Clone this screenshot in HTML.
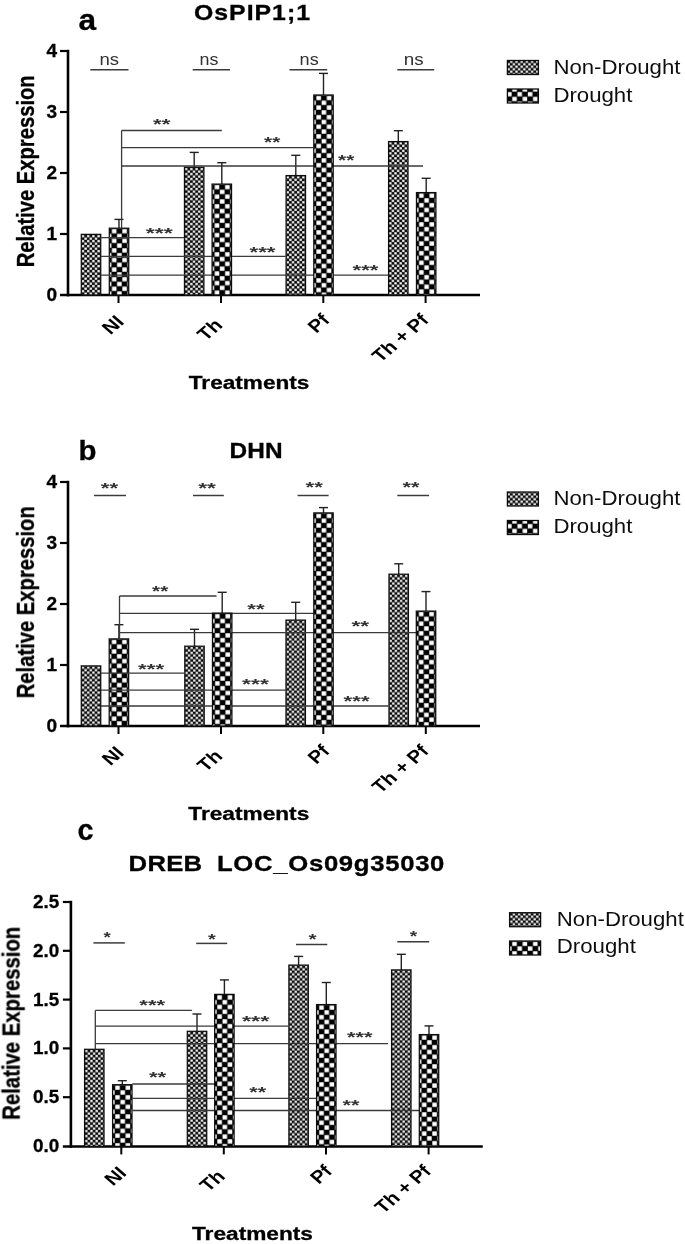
<!DOCTYPE html>
<html lang="en"><head><meta charset="utf-8"><title>Relative expression of drought responsive genes</title>
<style>html,body{margin:0;padding:0;background:#fff}body{width:685px;height:1244px;overflow:hidden}svg{display:block}svg text{font-family:"Liberation Sans", Arial, Helvetica, sans-serif}svg text[font-weight=bold]:not(.st){stroke:#000;stroke-width:.3px;paint-order:stroke}</style>
</head><body>
<svg width="685" height="1244" viewBox="0 0 685 1244">
<defs>
<pattern id="nd" patternUnits="userSpaceOnUse" width="5.2" height="5" x="0.4" y="0.5"><rect width="5.2" height="5" fill="#0a0a0a"/><rect x="0.15" y="0.12" width="2.3" height="2.25" fill="#fff"/><rect x="2.75" y="2.62" width="2.3" height="2.25" fill="#fff"/></pattern>
<pattern id="dr" patternUnits="userSpaceOnUse" width="10.4" height="9.6" x="2.3" y="0.6"><rect width="10.4" height="9.6" fill="#000"/><rect x="0.3" y="0.25" width="4.6" height="4.3" fill="#fff"/><rect x="5.5" y="5.05" width="4.6" height="4.3" fill="#fff"/></pattern>
<filter id="soft" x="0" y="0" width="685" height="1244" filterUnits="userSpaceOnUse"><feGaussianBlur stdDeviation="0.5"/></filter>
</defs>
<rect width="685" height="1244" fill="#fff"/>
<g filter="url(#soft)">
<line x1="68.0" y1="49.8" x2="68.0" y2="296.4" stroke="#000" stroke-width="2.6"/>
<line x1="60.0" y1="295.0" x2="480.0" y2="295.0" stroke="#000" stroke-width="2.5"/>
<line x1="60.0" y1="51.0" x2="68.0" y2="51.0" stroke="#000" stroke-width="2.2"/>
<text x="57.0" y="57.0" font-size="18.4" font-weight="bold" text-anchor="end" fill="#000" textLength="10.6" lengthAdjust="spacingAndGlyphs">4</text>
<line x1="60.0" y1="112.0" x2="68.0" y2="112.0" stroke="#000" stroke-width="2.2"/>
<text x="57.0" y="118.0" font-size="18.4" font-weight="bold" text-anchor="end" fill="#000" textLength="10.6" lengthAdjust="spacingAndGlyphs">3</text>
<line x1="60.0" y1="173.0" x2="68.0" y2="173.0" stroke="#000" stroke-width="2.2"/>
<text x="57.0" y="179.0" font-size="18.4" font-weight="bold" text-anchor="end" fill="#000" textLength="10.6" lengthAdjust="spacingAndGlyphs">2</text>
<line x1="60.0" y1="234.0" x2="68.0" y2="234.0" stroke="#000" stroke-width="2.2"/>
<text x="57.0" y="240.0" font-size="18.4" font-weight="bold" text-anchor="end" fill="#000" textLength="10.6" lengthAdjust="spacingAndGlyphs">1</text>
<text x="57.0" y="301.0" font-size="18.4" font-weight="bold" text-anchor="end" fill="#000" textLength="10.6" lengthAdjust="spacingAndGlyphs">0</text>
<line x1="118.5" y1="295.0" x2="118.5" y2="303.0" stroke="#000" stroke-width="2.0"/>
<line x1="221.0" y1="295.0" x2="221.0" y2="303.0" stroke="#000" stroke-width="2.0"/>
<line x1="323.3" y1="295.0" x2="323.3" y2="303.0" stroke="#000" stroke-width="2.0"/>
<line x1="425.6" y1="295.0" x2="425.6" y2="303.0" stroke="#000" stroke-width="2.0"/>
<svg x="81.3" y="234.4" width="19.4" height="60.6" overflow="hidden"><rect x="0" y="0" width="19.4" height="60.6" fill="url(#nd)"/></svg>
<rect x="81.3" y="234.4" width="19.4" height="60.6" fill="none" stroke="#111" stroke-width="1.3"/>
<line x1="194.2" y1="152.4" x2="194.2" y2="167.3" stroke="#222" stroke-width="1.4"/>
<line x1="189.7" y1="152.4" x2="198.7" y2="152.4" stroke="#222" stroke-width="1.4"/>
<svg x="184.5" y="167.3" width="19.4" height="127.7" overflow="hidden"><rect x="0" y="0" width="19.4" height="127.7" fill="url(#nd)"/></svg>
<rect x="184.5" y="167.3" width="19.4" height="127.7" fill="none" stroke="#111" stroke-width="1.3"/>
<line x1="295.8" y1="155.3" x2="295.8" y2="175.6" stroke="#222" stroke-width="1.4"/>
<line x1="291.3" y1="155.3" x2="300.3" y2="155.3" stroke="#222" stroke-width="1.4"/>
<svg x="286.1" y="175.6" width="19.4" height="119.4" overflow="hidden"><rect x="0" y="0" width="19.4" height="119.4" fill="url(#nd)"/></svg>
<rect x="286.1" y="175.6" width="19.4" height="119.4" fill="none" stroke="#111" stroke-width="1.3"/>
<line x1="398.3" y1="130.7" x2="398.3" y2="141.6" stroke="#222" stroke-width="1.4"/>
<line x1="393.8" y1="130.7" x2="402.8" y2="130.7" stroke="#222" stroke-width="1.4"/>
<svg x="388.6" y="141.6" width="19.4" height="153.4" overflow="hidden"><rect x="0" y="0" width="19.4" height="153.4" fill="url(#nd)"/></svg>
<rect x="388.6" y="141.6" width="19.4" height="153.4" fill="none" stroke="#111" stroke-width="1.3"/>
<line x1="119.0" y1="219.4" x2="119.0" y2="228.2" stroke="#222" stroke-width="1.4"/>
<line x1="114.5" y1="219.4" x2="123.5" y2="219.4" stroke="#222" stroke-width="1.4"/>
<svg x="109.3" y="228.2" width="19.4" height="66.8" overflow="hidden"><rect x="0" y="0" width="19.4" height="66.8" fill="url(#dr)"/></svg>
<rect x="109.3" y="228.2" width="19.4" height="66.8" fill="none" stroke="#111" stroke-width="1.3"/>
<line x1="121.6" y1="130.5" x2="121.6" y2="228.0" stroke="#3a3a3a" stroke-width="1.3"/>
<line x1="121.6" y1="130.5" x2="221.8" y2="130.5" stroke="#3a3a3a" stroke-width="1.3"/>
<line x1="121.6" y1="147.6" x2="313.3" y2="147.6" stroke="#3a3a3a" stroke-width="1.3"/>
<line x1="121.6" y1="166.0" x2="423.0" y2="166.0" stroke="#3a3a3a" stroke-width="1.3"/>
<line x1="101.0" y1="237.7" x2="184.3" y2="237.7" stroke="#3a3a3a" stroke-width="1.3"/>
<line x1="101.0" y1="256.4" x2="285.7" y2="256.4" stroke="#3a3a3a" stroke-width="1.3"/>
<line x1="101.0" y1="275.1" x2="388.5" y2="275.1" stroke="#3a3a3a" stroke-width="1.3"/>
<line x1="221.8" y1="162.7" x2="221.8" y2="184.1" stroke="#222" stroke-width="1.4"/>
<line x1="217.3" y1="162.7" x2="226.3" y2="162.7" stroke="#222" stroke-width="1.4"/>
<svg x="212.1" y="184.1" width="19.4" height="110.9" overflow="hidden"><rect x="0" y="0" width="19.4" height="110.9" fill="url(#dr)"/></svg>
<rect x="212.1" y="184.1" width="19.4" height="110.9" fill="none" stroke="#111" stroke-width="1.3"/>
<line x1="323.5" y1="73.4" x2="323.5" y2="95.0" stroke="#222" stroke-width="1.4"/>
<line x1="319.0" y1="73.4" x2="328.0" y2="73.4" stroke="#222" stroke-width="1.4"/>
<svg x="313.8" y="95.0" width="19.4" height="200.0" overflow="hidden"><rect x="0" y="0" width="19.4" height="200.0" fill="url(#dr)"/></svg>
<rect x="313.8" y="95.0" width="19.4" height="200.0" fill="none" stroke="#111" stroke-width="1.3"/>
<line x1="426.2" y1="178.3" x2="426.2" y2="192.6" stroke="#222" stroke-width="1.4"/>
<line x1="421.7" y1="178.3" x2="430.7" y2="178.3" stroke="#222" stroke-width="1.4"/>
<svg x="416.5" y="192.6" width="19.4" height="102.4" overflow="hidden"><rect x="0" y="0" width="19.4" height="102.4" fill="url(#dr)"/></svg>
<rect x="416.5" y="192.6" width="19.4" height="102.4" fill="none" stroke="#111" stroke-width="1.3"/>
<line x1="90.3" y1="69.8" x2="128.5" y2="69.8" stroke="#3a3a3a" stroke-width="1.5"/>
<text x="99.5" y="64.6" font-size="16.5" font-weight="normal" text-anchor="start" fill="#333" textLength="19.6" lengthAdjust="spacingAndGlyphs">ns</text>
<line x1="192.7" y1="69.8" x2="230.0" y2="69.8" stroke="#3a3a3a" stroke-width="1.5"/>
<text x="199.6" y="64.6" font-size="16.5" font-weight="normal" text-anchor="start" fill="#333" textLength="18.9" lengthAdjust="spacingAndGlyphs">ns</text>
<line x1="289.5" y1="69.8" x2="327.2" y2="69.8" stroke="#3a3a3a" stroke-width="1.5"/>
<text x="299.6" y="64.6" font-size="16.5" font-weight="normal" text-anchor="start" fill="#333" textLength="19.1" lengthAdjust="spacingAndGlyphs">ns</text>
<line x1="397.3" y1="69.8" x2="434.2" y2="69.8" stroke="#3a3a3a" stroke-width="1.5"/>
<text x="403.7" y="64.6" font-size="16.5" font-weight="normal" text-anchor="start" fill="#333" textLength="19.9" lengthAdjust="spacingAndGlyphs">ns</text>
<text x="153.1" y="128.7" font-size="14.5" font-weight="bold" text-anchor="start" fill="#333" textLength="17.3" lengthAdjust="spacingAndGlyphs" class="st">**</text>
<text x="264.1" y="146.5" font-size="14.5" font-weight="bold" text-anchor="start" fill="#333" textLength="16.2" lengthAdjust="spacingAndGlyphs" class="st">**</text>
<text x="338.1" y="165.3" font-size="14.5" font-weight="bold" text-anchor="start" fill="#333" textLength="16.3" lengthAdjust="spacingAndGlyphs" class="st">**</text>
<text x="145.8" y="238.4" font-size="14.5" font-weight="bold" text-anchor="start" fill="#333" textLength="27.1" lengthAdjust="spacingAndGlyphs" class="st">***</text>
<text x="249.5" y="256.5" font-size="14.5" font-weight="bold" text-anchor="start" fill="#333" textLength="26.0" lengthAdjust="spacingAndGlyphs" class="st">***</text>
<text x="352.5" y="275.0" font-size="14.5" font-weight="bold" text-anchor="start" fill="#333" textLength="26.0" lengthAdjust="spacingAndGlyphs" class="st">***</text>
<text transform="translate(194.0,19.9) scale(1.16,1)" font-size="21.4" font-weight="bold" textLength="100.0" lengthAdjust="spacing">OsPIP1;1</text>
<text x="78.6" y="30.4" font-size="30" font-weight="bold" text-anchor="start" fill="#000" textLength="17.6" lengthAdjust="spacingAndGlyphs">a</text>
<text transform="translate(34.2,171.3) rotate(-90) scale(1,1.16)" font-size="20" font-weight="bold" text-anchor="middle" textLength="192.0" lengthAdjust="spacingAndGlyphs">Relative Expression</text>
<text x="188.8" y="388.6" font-size="18.8" font-weight="bold" text-anchor="start" fill="#000" textLength="120.6" lengthAdjust="spacingAndGlyphs">Treatments</text>
<text transform="translate(125.1,322.7) scale(1.18,1) rotate(-45)" font-size="17.6" font-weight="bold" class="st" text-anchor="end">NI</text>
<text transform="translate(223.6,326.2) scale(1.18,1) rotate(-45)" font-size="17.6" font-weight="bold" class="st" text-anchor="end">Th</text>
<text transform="translate(330.9,321.2) scale(1.18,1) rotate(-45)" font-size="17.6" font-weight="bold" class="st" text-anchor="end">Pf</text>
<text transform="translate(429.9,321.2) scale(1.18,1) rotate(-45)" font-size="17.6" font-weight="bold" class="st" text-anchor="end">Th + Pf</text>
<rect x="507.4" y="60.5" width="31" height="14" fill="url(#nd)" stroke="#111" stroke-width="1.3"/>
<rect x="507.4" y="89.0" width="31" height="14" fill="url(#dr)" stroke="#111" stroke-width="1.3"/>
<text x="553.4" y="73.7" font-size="19.5" font-weight="normal" text-anchor="start" fill="#111" textLength="127.0" lengthAdjust="spacingAndGlyphs">Non-Drought</text>
<text x="553.4" y="101.7" font-size="19.5" font-weight="normal" text-anchor="start" fill="#111" textLength="79.0" lengthAdjust="spacingAndGlyphs">Drought</text>
<line x1="68.0" y1="480.8" x2="68.0" y2="727.4" stroke="#000" stroke-width="2.6"/>
<line x1="60.0" y1="726.0" x2="480.0" y2="726.0" stroke="#000" stroke-width="2.5"/>
<line x1="60.0" y1="482.0" x2="68.0" y2="482.0" stroke="#000" stroke-width="2.2"/>
<text x="57.0" y="488.0" font-size="18.4" font-weight="bold" text-anchor="end" fill="#000" textLength="10.6" lengthAdjust="spacingAndGlyphs">4</text>
<line x1="60.0" y1="543.0" x2="68.0" y2="543.0" stroke="#000" stroke-width="2.2"/>
<text x="57.0" y="549.0" font-size="18.4" font-weight="bold" text-anchor="end" fill="#000" textLength="10.6" lengthAdjust="spacingAndGlyphs">3</text>
<line x1="60.0" y1="604.0" x2="68.0" y2="604.0" stroke="#000" stroke-width="2.2"/>
<text x="57.0" y="610.0" font-size="18.4" font-weight="bold" text-anchor="end" fill="#000" textLength="10.6" lengthAdjust="spacingAndGlyphs">2</text>
<line x1="60.0" y1="665.0" x2="68.0" y2="665.0" stroke="#000" stroke-width="2.2"/>
<text x="57.0" y="671.0" font-size="18.4" font-weight="bold" text-anchor="end" fill="#000" textLength="10.6" lengthAdjust="spacingAndGlyphs">1</text>
<text x="57.0" y="732.0" font-size="18.4" font-weight="bold" text-anchor="end" fill="#000" textLength="10.6" lengthAdjust="spacingAndGlyphs">0</text>
<line x1="118.5" y1="726.0" x2="118.5" y2="734.0" stroke="#000" stroke-width="2.0"/>
<line x1="221.0" y1="726.0" x2="221.0" y2="734.0" stroke="#000" stroke-width="2.0"/>
<line x1="323.3" y1="726.0" x2="323.3" y2="734.0" stroke="#000" stroke-width="2.0"/>
<line x1="425.8" y1="726.0" x2="425.8" y2="734.0" stroke="#000" stroke-width="2.0"/>
<svg x="81.3" y="665.9" width="19.4" height="60.1" overflow="hidden"><rect x="0" y="0" width="19.4" height="60.1" fill="url(#nd)"/></svg>
<rect x="81.3" y="665.9" width="19.4" height="60.1" fill="none" stroke="#111" stroke-width="1.3"/>
<line x1="194.5" y1="629.3" x2="194.5" y2="646.2" stroke="#222" stroke-width="1.4"/>
<line x1="190.0" y1="629.3" x2="199.0" y2="629.3" stroke="#222" stroke-width="1.4"/>
<svg x="184.8" y="646.2" width="19.4" height="79.8" overflow="hidden"><rect x="0" y="0" width="19.4" height="79.8" fill="url(#nd)"/></svg>
<rect x="184.8" y="646.2" width="19.4" height="79.8" fill="none" stroke="#111" stroke-width="1.3"/>
<line x1="295.7" y1="602.3" x2="295.7" y2="620.1" stroke="#222" stroke-width="1.4"/>
<line x1="291.2" y1="602.3" x2="300.2" y2="602.3" stroke="#222" stroke-width="1.4"/>
<svg x="286.0" y="620.1" width="19.4" height="105.9" overflow="hidden"><rect x="0" y="0" width="19.4" height="105.9" fill="url(#nd)"/></svg>
<rect x="286.0" y="620.1" width="19.4" height="105.9" fill="none" stroke="#111" stroke-width="1.3"/>
<line x1="398.7" y1="563.8" x2="398.7" y2="574.2" stroke="#222" stroke-width="1.4"/>
<line x1="394.2" y1="563.8" x2="403.2" y2="563.8" stroke="#222" stroke-width="1.4"/>
<svg x="389.0" y="574.2" width="19.4" height="151.8" overflow="hidden"><rect x="0" y="0" width="19.4" height="151.8" fill="url(#nd)"/></svg>
<rect x="389.0" y="574.2" width="19.4" height="151.8" fill="none" stroke="#111" stroke-width="1.3"/>
<line x1="118.9" y1="624.7" x2="118.9" y2="638.9" stroke="#222" stroke-width="1.4"/>
<line x1="114.4" y1="624.7" x2="123.4" y2="624.7" stroke="#222" stroke-width="1.4"/>
<svg x="109.2" y="638.9" width="19.4" height="87.1" overflow="hidden"><rect x="0" y="0" width="19.4" height="87.1" fill="url(#dr)"/></svg>
<rect x="109.2" y="638.9" width="19.4" height="87.1" fill="none" stroke="#111" stroke-width="1.3"/>
<line x1="119.5" y1="596.0" x2="119.5" y2="639.0" stroke="#3a3a3a" stroke-width="1.3"/>
<line x1="119.5" y1="596.0" x2="216.5" y2="596.0" stroke="#3a3a3a" stroke-width="1.3"/>
<line x1="119.5" y1="613.4" x2="315.4" y2="613.4" stroke="#3a3a3a" stroke-width="1.3"/>
<line x1="119.5" y1="632.7" x2="418.6" y2="632.7" stroke="#3a3a3a" stroke-width="1.3"/>
<line x1="101.0" y1="673.2" x2="184.5" y2="673.2" stroke="#3a3a3a" stroke-width="1.3"/>
<line x1="101.0" y1="690.2" x2="285.7" y2="690.2" stroke="#3a3a3a" stroke-width="1.3"/>
<line x1="101.0" y1="706.0" x2="388.7" y2="706.0" stroke="#3a3a3a" stroke-width="1.3"/>
<line x1="222.2" y1="592.3" x2="222.2" y2="613.2" stroke="#222" stroke-width="1.4"/>
<line x1="217.7" y1="592.3" x2="226.7" y2="592.3" stroke="#222" stroke-width="1.4"/>
<svg x="212.5" y="613.2" width="19.4" height="112.8" overflow="hidden"><rect x="0" y="0" width="19.4" height="112.8" fill="url(#dr)"/></svg>
<rect x="212.5" y="613.2" width="19.4" height="112.8" fill="none" stroke="#111" stroke-width="1.3"/>
<line x1="323.5" y1="507.6" x2="323.5" y2="512.9" stroke="#222" stroke-width="1.4"/>
<line x1="319.0" y1="507.6" x2="328.0" y2="507.6" stroke="#222" stroke-width="1.4"/>
<svg x="313.8" y="512.9" width="19.4" height="213.1" overflow="hidden"><rect x="0" y="0" width="19.4" height="213.1" fill="url(#dr)"/></svg>
<rect x="313.8" y="512.9" width="19.4" height="213.1" fill="none" stroke="#111" stroke-width="1.3"/>
<line x1="426.0" y1="591.6" x2="426.0" y2="611.1" stroke="#222" stroke-width="1.4"/>
<line x1="421.5" y1="591.6" x2="430.5" y2="591.6" stroke="#222" stroke-width="1.4"/>
<svg x="416.3" y="611.1" width="19.4" height="114.9" overflow="hidden"><rect x="0" y="0" width="19.4" height="114.9" fill="url(#dr)"/></svg>
<rect x="416.3" y="611.1" width="19.4" height="114.9" fill="none" stroke="#111" stroke-width="1.3"/>
<line x1="94.0" y1="495.5" x2="126.0" y2="495.5" stroke="#3a3a3a" stroke-width="1.5"/>
<text x="100.7" y="492.9" font-size="14.5" font-weight="bold" text-anchor="start" fill="#333" textLength="17.5" lengthAdjust="spacingAndGlyphs" class="st">**</text>
<line x1="193.0" y1="495.5" x2="223.8" y2="495.5" stroke="#3a3a3a" stroke-width="1.5"/>
<text x="198.2" y="492.8" font-size="14.5" font-weight="bold" text-anchor="start" fill="#333" textLength="17.7" lengthAdjust="spacingAndGlyphs" class="st">**</text>
<line x1="297.6" y1="495.5" x2="328.6" y2="495.5" stroke="#3a3a3a" stroke-width="1.5"/>
<text x="305.5" y="491.7" font-size="14.5" font-weight="bold" text-anchor="start" fill="#333" textLength="17.3" lengthAdjust="spacingAndGlyphs" class="st">**</text>
<line x1="397.3" y1="495.5" x2="429.0" y2="495.5" stroke="#3a3a3a" stroke-width="1.5"/>
<text x="402.5" y="491.7" font-size="14.5" font-weight="bold" text-anchor="start" fill="#333" textLength="17.0" lengthAdjust="spacingAndGlyphs" class="st">**</text>
<text x="152.1" y="595.7" font-size="14.5" font-weight="bold" text-anchor="start" fill="#333" textLength="16.2" lengthAdjust="spacingAndGlyphs" class="st">**</text>
<text x="247.3" y="614.1" font-size="14.5" font-weight="bold" text-anchor="start" fill="#333" textLength="17.3" lengthAdjust="spacingAndGlyphs" class="st">**</text>
<text x="351.5" y="631.2" font-size="14.5" font-weight="bold" text-anchor="start" fill="#333" textLength="17.7" lengthAdjust="spacingAndGlyphs" class="st">**</text>
<text x="138.1" y="673.7" font-size="14.5" font-weight="bold" text-anchor="start" fill="#333" textLength="26.1" lengthAdjust="spacingAndGlyphs" class="st">***</text>
<text x="242.1" y="688.7" font-size="14.5" font-weight="bold" text-anchor="start" fill="#333" textLength="26.7" lengthAdjust="spacingAndGlyphs" class="st">***</text>
<text x="343.5" y="705.9" font-size="14.5" font-weight="bold" text-anchor="start" fill="#333" textLength="26.1" lengthAdjust="spacingAndGlyphs" class="st">***</text>
<text transform="translate(229.6,458.2) scale(1.12,1)" font-size="21.8" font-weight="bold" textLength="47.3" lengthAdjust="spacing">DHN</text>
<text x="78.6" y="459.8" font-size="28.5" font-weight="bold" text-anchor="start" fill="#000" textLength="18.0" lengthAdjust="spacingAndGlyphs">b</text>
<text transform="translate(34.2,602.3) rotate(-90) scale(1,1.16)" font-size="20" font-weight="bold" text-anchor="middle" textLength="192.0" lengthAdjust="spacingAndGlyphs">Relative Expression</text>
<text x="188.3" y="819.6" font-size="18.8" font-weight="bold" text-anchor="start" fill="#000" textLength="121.0" lengthAdjust="spacingAndGlyphs">Treatments</text>
<text transform="translate(125.1,753.7) scale(1.18,1) rotate(-45)" font-size="17.6" font-weight="bold" class="st" text-anchor="end">NI</text>
<text transform="translate(223.6,757.2) scale(1.18,1) rotate(-45)" font-size="17.6" font-weight="bold" class="st" text-anchor="end">Th</text>
<text transform="translate(330.9,752.2) scale(1.18,1) rotate(-45)" font-size="17.6" font-weight="bold" class="st" text-anchor="end">Pf</text>
<text transform="translate(429.9,752.2) scale(1.18,1) rotate(-45)" font-size="17.6" font-weight="bold" class="st" text-anchor="end">Th + Pf</text>
<rect x="507.4" y="492.0" width="31" height="14" fill="url(#nd)" stroke="#111" stroke-width="1.3"/>
<rect x="507.4" y="520.5" width="31" height="14" fill="url(#dr)" stroke="#111" stroke-width="1.3"/>
<text x="553.4" y="505.2" font-size="19.5" font-weight="normal" text-anchor="start" fill="#111" textLength="127.0" lengthAdjust="spacingAndGlyphs">Non-Drought</text>
<text x="553.4" y="533.2" font-size="19.5" font-weight="normal" text-anchor="start" fill="#111" textLength="79.0" lengthAdjust="spacingAndGlyphs">Drought</text>
<line x1="70.9" y1="900.8" x2="70.9" y2="1147.8" stroke="#000" stroke-width="2.6"/>
<line x1="62.9" y1="1146.4" x2="482.8" y2="1146.4" stroke="#000" stroke-width="2.5"/>
<line x1="62.9" y1="902.0" x2="70.9" y2="902.0" stroke="#000" stroke-width="2.2"/>
<text x="59.2" y="908.0" font-size="18.4" font-weight="bold" text-anchor="end" fill="#000" textLength="26.2" lengthAdjust="spacingAndGlyphs">2.5</text>
<line x1="62.9" y1="950.8" x2="70.9" y2="950.8" stroke="#000" stroke-width="2.2"/>
<text x="59.2" y="956.8" font-size="18.4" font-weight="bold" text-anchor="end" fill="#000" textLength="26.2" lengthAdjust="spacingAndGlyphs">2.0</text>
<line x1="62.9" y1="999.6" x2="70.9" y2="999.6" stroke="#000" stroke-width="2.2"/>
<text x="59.2" y="1005.6" font-size="18.4" font-weight="bold" text-anchor="end" fill="#000" textLength="26.2" lengthAdjust="spacingAndGlyphs">1.5</text>
<line x1="62.9" y1="1048.4" x2="70.9" y2="1048.4" stroke="#000" stroke-width="2.2"/>
<text x="59.2" y="1054.4" font-size="18.4" font-weight="bold" text-anchor="end" fill="#000" textLength="26.2" lengthAdjust="spacingAndGlyphs">1.0</text>
<line x1="62.9" y1="1097.2" x2="70.9" y2="1097.2" stroke="#000" stroke-width="2.2"/>
<text x="59.2" y="1103.2" font-size="18.4" font-weight="bold" text-anchor="end" fill="#000" textLength="26.2" lengthAdjust="spacingAndGlyphs">0.5</text>
<text x="59.2" y="1152.0" font-size="18.4" font-weight="bold" text-anchor="end" fill="#000" textLength="26.2" lengthAdjust="spacingAndGlyphs">0.0</text>
<line x1="121.3" y1="1146.4" x2="121.3" y2="1154.4" stroke="#000" stroke-width="2.0"/>
<line x1="223.8" y1="1146.4" x2="223.8" y2="1154.4" stroke="#000" stroke-width="2.0"/>
<line x1="326.0" y1="1146.4" x2="326.0" y2="1154.4" stroke="#000" stroke-width="2.0"/>
<line x1="428.6" y1="1146.4" x2="428.6" y2="1154.4" stroke="#000" stroke-width="2.0"/>
<svg x="84.6" y="1049.3" width="19.4" height="97.1" overflow="hidden"><rect x="0" y="0" width="19.4" height="97.1" fill="url(#nd)"/></svg>
<rect x="84.6" y="1049.3" width="19.4" height="97.1" fill="none" stroke="#111" stroke-width="1.3"/>
<line x1="197.0" y1="1014.0" x2="197.0" y2="1031.3" stroke="#222" stroke-width="1.4"/>
<line x1="192.5" y1="1014.0" x2="201.5" y2="1014.0" stroke="#222" stroke-width="1.4"/>
<svg x="187.3" y="1031.3" width="19.4" height="115.1" overflow="hidden"><rect x="0" y="0" width="19.4" height="115.1" fill="url(#nd)"/></svg>
<rect x="187.3" y="1031.3" width="19.4" height="115.1" fill="none" stroke="#111" stroke-width="1.3"/>
<line x1="298.6" y1="956.4" x2="298.6" y2="965.1" stroke="#222" stroke-width="1.4"/>
<line x1="294.1" y1="956.4" x2="303.1" y2="956.4" stroke="#222" stroke-width="1.4"/>
<svg x="288.9" y="965.1" width="19.4" height="181.3" overflow="hidden"><rect x="0" y="0" width="19.4" height="181.3" fill="url(#nd)"/></svg>
<rect x="288.9" y="965.1" width="19.4" height="181.3" fill="none" stroke="#111" stroke-width="1.3"/>
<line x1="401.3" y1="954.3" x2="401.3" y2="969.9" stroke="#222" stroke-width="1.4"/>
<line x1="396.8" y1="954.3" x2="405.8" y2="954.3" stroke="#222" stroke-width="1.4"/>
<svg x="391.6" y="969.9" width="19.4" height="176.5" overflow="hidden"><rect x="0" y="0" width="19.4" height="176.5" fill="url(#nd)"/></svg>
<rect x="391.6" y="969.9" width="19.4" height="176.5" fill="none" stroke="#111" stroke-width="1.3"/>
<line x1="122.3" y1="1080.7" x2="122.3" y2="1084.7" stroke="#222" stroke-width="1.4"/>
<line x1="117.8" y1="1080.7" x2="126.8" y2="1080.7" stroke="#222" stroke-width="1.4"/>
<svg x="112.6" y="1084.7" width="19.4" height="61.7" overflow="hidden"><rect x="0" y="0" width="19.4" height="61.7" fill="url(#dr)"/></svg>
<rect x="112.6" y="1084.7" width="19.4" height="61.7" fill="none" stroke="#111" stroke-width="1.3"/>
<line x1="95.3" y1="1010.4" x2="95.3" y2="1049.0" stroke="#3a3a3a" stroke-width="1.3"/>
<line x1="95.3" y1="1010.4" x2="191.9" y2="1010.4" stroke="#3a3a3a" stroke-width="1.3"/>
<line x1="95.3" y1="1026.2" x2="288.2" y2="1026.2" stroke="#3a3a3a" stroke-width="1.3"/>
<line x1="95.3" y1="1043.6" x2="388.0" y2="1043.6" stroke="#3a3a3a" stroke-width="1.3"/>
<line x1="132.3" y1="1084.0" x2="214.7" y2="1084.0" stroke="#3a3a3a" stroke-width="1.3"/>
<line x1="132.3" y1="1098.4" x2="316.0" y2="1098.4" stroke="#3a3a3a" stroke-width="1.3"/>
<line x1="132.3" y1="1110.5" x2="419.5" y2="1110.5" stroke="#3a3a3a" stroke-width="1.3"/>
<line x1="224.4" y1="979.9" x2="224.4" y2="994.4" stroke="#222" stroke-width="1.4"/>
<line x1="219.9" y1="979.9" x2="228.9" y2="979.9" stroke="#222" stroke-width="1.4"/>
<svg x="214.7" y="994.4" width="19.4" height="152.0" overflow="hidden"><rect x="0" y="0" width="19.4" height="152.0" fill="url(#dr)"/></svg>
<rect x="214.7" y="994.4" width="19.4" height="152.0" fill="none" stroke="#111" stroke-width="1.3"/>
<line x1="326.3" y1="982.5" x2="326.3" y2="1004.6" stroke="#222" stroke-width="1.4"/>
<line x1="321.8" y1="982.5" x2="330.8" y2="982.5" stroke="#222" stroke-width="1.4"/>
<svg x="316.6" y="1004.6" width="19.4" height="141.8" overflow="hidden"><rect x="0" y="0" width="19.4" height="141.8" fill="url(#dr)"/></svg>
<rect x="316.6" y="1004.6" width="19.4" height="141.8" fill="none" stroke="#111" stroke-width="1.3"/>
<line x1="429.0" y1="1025.9" x2="429.0" y2="1034.6" stroke="#222" stroke-width="1.4"/>
<line x1="424.5" y1="1025.9" x2="433.5" y2="1025.9" stroke="#222" stroke-width="1.4"/>
<svg x="419.3" y="1034.6" width="19.4" height="111.8" overflow="hidden"><rect x="0" y="0" width="19.4" height="111.8" fill="url(#dr)"/></svg>
<rect x="419.3" y="1034.6" width="19.4" height="111.8" fill="none" stroke="#111" stroke-width="1.3"/>
<line x1="93.4" y1="942.9" x2="124.8" y2="942.9" stroke="#3a3a3a" stroke-width="1.5"/>
<text x="103.4" y="941.7" font-size="14.5" font-weight="bold" text-anchor="start" fill="#333" textLength="7.3" lengthAdjust="spacingAndGlyphs" class="st">*</text>
<line x1="196.2" y1="943.4" x2="227.2" y2="943.4" stroke="#3a3a3a" stroke-width="1.5"/>
<text x="208.1" y="943.8" font-size="14.5" font-weight="bold" text-anchor="start" fill="#333" textLength="7.8" lengthAdjust="spacingAndGlyphs" class="st">*</text>
<line x1="296.0" y1="944.5" x2="327.3" y2="944.5" stroke="#3a3a3a" stroke-width="1.5"/>
<text x="308.5" y="943.8" font-size="14.5" font-weight="bold" text-anchor="start" fill="#333" textLength="8.1" lengthAdjust="spacingAndGlyphs" class="st">*</text>
<line x1="397.3" y1="941.7" x2="429.2" y2="941.7" stroke="#3a3a3a" stroke-width="1.5"/>
<text x="409.8" y="941.2" font-size="14.5" font-weight="bold" text-anchor="start" fill="#333" textLength="7.5" lengthAdjust="spacingAndGlyphs" class="st">*</text>
<text x="139.3" y="1009.9" font-size="14.5" font-weight="bold" text-anchor="start" fill="#333" textLength="25.9" lengthAdjust="spacingAndGlyphs" class="st">***</text>
<text x="241.9" y="1025.5" font-size="14.5" font-weight="bold" text-anchor="start" fill="#333" textLength="27.5" lengthAdjust="spacingAndGlyphs" class="st">***</text>
<text x="346.9" y="1041.5" font-size="14.5" font-weight="bold" text-anchor="start" fill="#333" textLength="25.6" lengthAdjust="spacingAndGlyphs" class="st">***</text>
<text x="148.9" y="1081.7" font-size="14.5" font-weight="bold" text-anchor="start" fill="#333" textLength="17.4" lengthAdjust="spacingAndGlyphs" class="st">**</text>
<text x="249.3" y="1096.9" font-size="14.5" font-weight="bold" text-anchor="start" fill="#333" textLength="16.9" lengthAdjust="spacingAndGlyphs" class="st">**</text>
<text x="342.6" y="1110.1" font-size="14.5" font-weight="bold" text-anchor="start" fill="#333" textLength="16.9" lengthAdjust="spacingAndGlyphs" class="st">**</text>
<text transform="translate(128.6,871.0) scale(1.2,1)" font-size="21.4" font-weight="bold" textLength="61.3" lengthAdjust="spacing">DREB</text>
<text transform="translate(217.0,871.0) scale(1.2,1)" font-size="21.4" font-weight="bold" textLength="189.5" lengthAdjust="spacing">LOC_Os09g35030</text>
<text x="77.4" y="839.8" font-size="30" font-weight="bold" text-anchor="start" fill="#000" textLength="16.0" lengthAdjust="spacingAndGlyphs">c</text>
<text transform="translate(19.6,1023.3) rotate(-90) scale(1,1.2)" font-size="20" font-weight="bold" text-anchor="middle" textLength="193" lengthAdjust="spacingAndGlyphs">Relative Expression</text>
<text x="192.0" y="1240.2" font-size="18.8" font-weight="bold" text-anchor="start" fill="#000" textLength="121.0" lengthAdjust="spacingAndGlyphs">Treatments</text>
<text transform="translate(127.7,1174.0) scale(1.18,1) rotate(-45)" font-size="17.6" font-weight="bold" class="st" text-anchor="end">NI</text>
<text transform="translate(226.2,1177.4) scale(1.18,1) rotate(-45)" font-size="17.6" font-weight="bold" class="st" text-anchor="end">Th</text>
<text transform="translate(333.5,1172.4) scale(1.18,1) rotate(-45)" font-size="17.6" font-weight="bold" class="st" text-anchor="end">Pf</text>
<text transform="translate(432.5,1172.4) scale(1.18,1) rotate(-45)" font-size="17.6" font-weight="bold" class="st" text-anchor="end">Th + Pf</text>
<rect x="509.6" y="912.7" width="31" height="14" fill="url(#nd)" stroke="#111" stroke-width="1.3"/>
<rect x="509.6" y="941.0" width="31" height="14" fill="url(#dr)" stroke="#111" stroke-width="1.3"/>
<text x="556.8" y="925.5" font-size="19.5" font-weight="normal" text-anchor="start" fill="#111" textLength="127.0" lengthAdjust="spacingAndGlyphs">Non-Drought</text>
<text x="556.8" y="953.2" font-size="19.5" font-weight="normal" text-anchor="start" fill="#111" textLength="79.0" lengthAdjust="spacingAndGlyphs">Drought</text>
</g>
</svg>
</body></html>
